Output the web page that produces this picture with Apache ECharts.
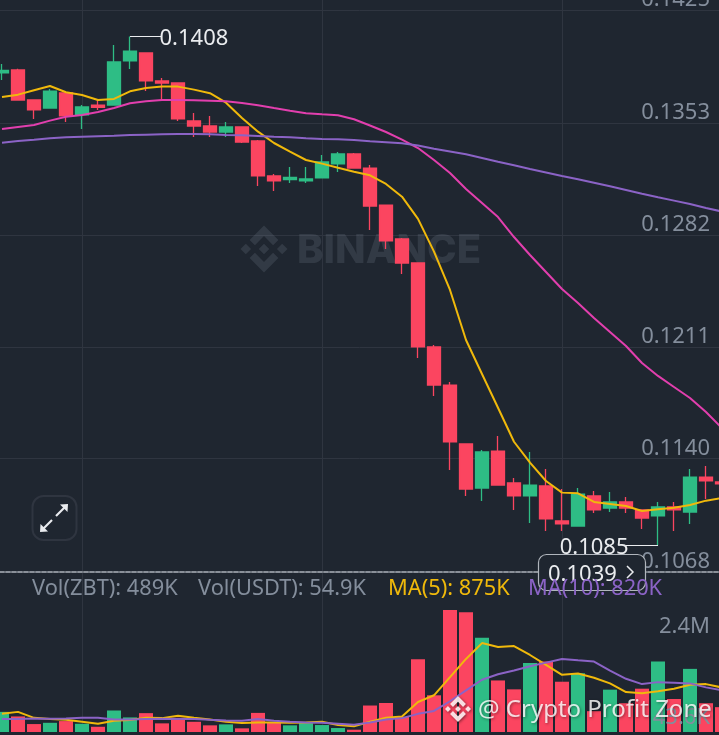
<!DOCTYPE html>
<html><head><meta charset="utf-8">
<style>html,body{margin:0;padding:0;background:#1f2630}#c{width:719px;height:735px}</style>
<script src="https://cdn.jsdelivr.net/npm/echarts@6/dist/echarts.min.js"></script>
</head><body><div id="c"></div>
<script>
const opens=[.13849,.13868,.13677,.13626,.13722,.13582,.13645,.13645,.13925,.13976,.13798,.13785,.13544,.13512,.13474,.13506,.13417,.13195,.13172,.13163,.13182,.13271,.13334,.13245,.1301,.12795,.12642,.12109,.11867,.11493,.11213,.11448,.11245,.11163,.11226,.11004,.10972,.11163,.11086,.11125,.11074,.11036,.11093,.11061,.11283,.11252];
const closes=[.13865,.13677,.13614,.13734,.13576,.13633,.1363,.13919,.13988,.13798,.13785,.13557,.13512,.13474,.13506,.1341,.13195,.13163,.13185,.13176,.13284,.13334,.13245,.13004,.12782,.12642,.12109,.11867,.11506,.11207,.11442,.11232,.11163,.11232,.11017,.10985,.11175,.11074,.11125,.11086,.11023,.11093,.11074,.11283,.11258,.11239];
const lows=[.13804,.13677,.13557,.13626,.13538,.13493,.13614,.13645,.13874,.13734,.13677,.13544,.13442,.13442,.13442,.13404,.13131,.13099,.1315,.1315,.13182,.1322,.13245,.12852,.12731,.12572,.12039,.11798,.11328,.11163,.11131,.11232,.11074,.10991,.1094,.1094,.10972,.11055,.11061,.11055,.10953,.1085,.1094,.10985,.11144,.11207];
const highs=[.13906,.13876,.13677,.13747,.13722,.13645,.13677,.14026,.1408,.13976,.13817,.13785,.13595,.13576,.13538,.13506,.13423,.13207,.13252,.13252,.13328,.13347,.13341,.13264,.1301,.12801,.12642,.12121,.11887,.11493,.11455,.11544,.11277,.11442,.11334,.11207,.11213,.11194,.11188,.11156,.11074,.11125,.11125,.11334,.11353,.11328];
const maYellow=[.13696,.13711,.13739,.13766,.13726,.13709,.13677,.13684,.13732,.13753,.13762,.13762,.13743,.1372,.1366,.13563,.13476,.13404,.13349,.13296,.13273,.13247,.13222,.13199,.13144,.13063,.12922,.12714,.12471,.12153,.11937,.11723,.11507,.11374,.11258,.11184,.1118,.11125,.11112,.11099,.11067,.11078,.11088,.11105,.11133,.1115];
const maPink=[.13493,.13506,.13518,.13546,.13571,.13582,.13601,.13626,.13656,.13669,.13677,.13677,.13675,.13673,.13669,.13658,.13644,.13626,.13609,.13593,.13586,.1358,.13555,.13515,.13474,.13426,.13372,.13296,.13214,.13112,.13023,.12934,.12807,.12693,.12585,.12477,.12388,.12293,.12204,.12115,.12007,.11925,.11855,.11785,.11696,.11594];
const maPurple=[.13406,.13417,.13425,.13434,.1344,.13444,.13447,.1345,.13455,.13457,.13459,.13461,.13461,.13459,.13455,.13453,.13449,.13444,.1344,.13434,.1343,.13428,.13423,.13415,.13409,.13402,.13388,.13368,.1335,.13332,.13309,.13285,.13263,.13239,.13217,.13195,.13174,.13152,.13129,.13106,.13082,.13059,.13038,.13017,.12991,.12969];
const volumes=[396,306,156,181,215,162,103,423,287,371,170,279,201,131,150,72,376,181,131,176,137,78,45,521,571,298,1429,722,2400,2354,1853,1014,839,1359,1385,989,1156,410,833,566,852,1385,649,1242,566,489];
const volYellow=[357,396,279,254,240,201,162,220,234,279,273,318,279,248,201,176,189,189,181,189,201,137,111,201,279,306,591,722,1078,1437,1749,1671,1691,1515,1320,1125,1151,1067,956,786,761,800,852,930,942,875];
const volPurple=[254,254,267,259,267,279,279,248,248,254,259,254,254,240,228,220,254,220,201,189,181,162,142,189,248,273,357,415,605,819,1028,1137,1209,1293,1365,1437,1410,1385,1209,1047,942,981,969,956,878,820];
const priceTicks=[0.1068,0.1140,0.1211,0.1282,0.1353,0.1425];
const volumeTicks=[43.6,2400];
const verticalTicks=[5,20,35];
const categories=opens.map((_,i)=>String(i));

const BG='#1f2630',GRID='#2f3540',TXT='#848e9c',UP='#2ebd85',DOWN='#fb4560';
const YEL='#f0b90b',PINK='#e23fae',PUR='#8b63c6',WHITE='#eaecef';
const MARK='rgba(132,142,156,0.2)';
const LOGO_POLYS=[
 [[9.8,13.4],[16,7.2],[22.2,13.4],[25.8,9.8],[16,0],[6.2,9.8]],
 [[0,16],[3.6,12.4],[7.2,16],[3.6,19.6]],
 [[9.8,18.6],[16,24.8],[22.2,18.6],[25.8,22.2],[16,32],[6.2,22.2]],
 [[24.8,16],[28.4,12.4],[32,16],[28.4,19.6]],
 [[19.6,16],[16,19.6],[12.4,16],[16,12.4]]];
const logo=(x,y,size,z,style)=>LOGO_POLYS.map(p=>({type:'polygon',z,silent:true,shape:{points:p.map(q=>[x+q[0]*size/32,y+q[1]*size/32])},style}));
const FONT='"Noto Sans"';
const GT={left:-6,width:736};
const line=(name,data,color,xi)=>({name,type:'line',data,xAxisIndex:xi,yAxisIndex:xi,showSymbol:false,symbol:'none',smooth:false,z:5,silent:true,lineStyle:{color,width:2},itemStyle:{color}});

const xCommon=i=>({type:'category',gridIndex:i,data:categories,boundaryGap:true,
  axisLabel:{show:false},axisTick:{show:false,alignWithLabel:true,customValues:verticalTicks},
  splitLine:{show:true,alignWithLabel:true,lineStyle:{color:GRID,width:1}},
  axisLine:i===0?{show:true,onZero:false,lineStyle:{color:'#8a9099',type:[4,2],width:2}}:{show:false}});

const polyl=(pts,z,stroke,w)=>({type:'polyline',z,silent:true,shape:{points:pts},style:{fill:'none',stroke,lineWidth:w}});
const tri=(pts,z,fill)=>({type:'polygon',z,silent:true,shape:{points:pts},style:{fill}});

const chart=echarts.init(document.getElementById('c'),null,{renderer:'canvas'});
chart.setOption({
  animation:false,backgroundColor:BG,
  grid:[{left:GT.left,width:GT.width,top:0,height:572,containLabel:false,outerBoundsMode:'none'},{left:GT.left,width:GT.width,top:572,height:160,containLabel:false,outerBoundsMode:'none'}],
  xAxis:[xCommon(0),xCommon(1)],
  yAxis:[
    {type:'value',gridIndex:0,position:'right',min:0.1068,max:0.14312,scale:true,
     axisLine:{show:false},axisTick:{show:false,customValues:priceTicks},
     axisLabel:{inside:true,margin:20,color:TXT,fontFamily:FONT,fontSize:22,verticalAlign:'bottom',lineHeight:20,showMinLabel:true,showMaxLabel:true,hideOverlap:false,customValues:priceTicks,formatter:v=>v.toFixed(4)},
     splitLine:{show:true,lineStyle:{color:GRID,width:1}}},
    {type:'value',gridIndex:1,position:'right',min:0,max:3147.5,z:10,
     axisLine:{show:false},axisTick:{show:false,customValues:volumeTicks},
     axisLabel:{inside:true,margin:20,color:TXT,fontFamily:FONT,fontSize:22,hideOverlap:false,customValues:volumeTicks,verticalAlign:'middle',
       formatter:v=>v>=1000?'{hi|'+(v/1000).toFixed(1)+'M}':'{lo|'+v.toFixed(1)+'K}',
       rich:{hi:{color:TXT,fontFamily:FONT,fontSize:22,padding:[34,0,0,0]},lo:{color:TXT,fontFamily:FONT,fontSize:22,padding:[0,0,24,0]}}},
     splitLine:{show:false}}
  ],
  series:[
    {type:'candlestick',xAxisIndex:0,yAxisIndex:0,barWidth:14,z:3,silent:true,
     data:opens.map((o,i)=>[o,closes[i],lows[i],highs[i]]),
     itemStyle:{color:UP,color0:DOWN,borderColor:UP,borderColor0:DOWN,borderWidth:1.3},
     markLine:{silent:true,symbol:'none',animation:false,z:6,
       lineStyle:{color:WHITE,type:'solid',width:1},
       label:{position:'end',distance:-2.5,formatter:p=>'{t|'+p.value.toFixed(4)+'}',
         rich:{t:{color:WHITE,fontFamily:FONT,fontSize:22,padding:[5,0,0,0]}}},
       data:[
         [{coord:[8,highs[8]],value:highs[8]},{coord:[9.875,highs[8]]}],
         [{coord:[41,lows[41]],value:lows[41]},{coord:[39.125,lows[41]]}]
       ]}},
    line('MA1',maYellow,YEL,0),line('MA2',maPink,PINK,0),line('MA3',maPurple,PUR,0),
    {type:'bar',xAxisIndex:1,yAxisIndex:1,barWidth:14,z:3,silent:true,
     data:volumes.map((v,i)=>({value:v,itemStyle:{color:closes[i]>=opens[i]?UP:DOWN}}))},
    line('VMA5',volYellow,YEL,1),line('VMA10',volPurple,PUR,1)
  ],
  graphic:[
    ...logo(240.5,225.5,47,1,{fill:MARK}),
    {type:'text',z:1,left:297,top:231,silent:true,style:{text:'BINANCE',fill:MARK,fontFamily:'Inter',fontWeight:800,fontSize:40,textAlign:'left'}},
    {type:'rect',z:20,shape:{x:32.5,y:496,width:44,height:44,r:11},style:{fill:BG,stroke:GRID,lineWidth:2},silent:true},
    polyl([[43,529],[52,520]],21,WHITE,2.2),tri([[40,532],[48,531.5],[40.5,524]],21,WHITE),
    polyl([[65,507],[56,516]],21,WHITE,2.2),tri([[68,504],[60,504.5],[67.5,512]],21,WHITE),
    {type:'rect',z:20,shape:{x:538.5,y:554.5,width:107,height:36,r:8},style:{fill:BG,stroke:'#b0b5bc',lineWidth:1.2},silent:true},
    {type:'text',z:21,left:548,top:564,silent:true,style:{text:'0.1039',fill:WHITE,fontFamily:FONT,fontSize:22}},
    polyl([[627,566],[633,572],[627,578]],21,WHITE,1.5),
    {type:'text',z:22,left:32,top:578,silent:true,style:{text:'Vol(ZBT): 489K',fill:TXT,fontFamily:FONT,fontSize:21.8}},
    {type:'text',z:22,left:198,top:578,silent:true,style:{text:'Vol(USDT): 54.9K',fill:TXT,fontFamily:FONT,fontSize:21.8}},
    {type:'text',z:22,left:388,top:578,silent:true,style:{text:'MA(5): 875K',fill:YEL,fontFamily:FONT,fontSize:21.8}},
    {type:'text',z:22,left:528,top:578,silent:true,style:{text:'MA(10): 820K',fill:PUR,fontFamily:FONT,fontSize:21.8}},
    ...logo(445,696,26,30,{fill:'rgba(255,238,240,.92)',shadowColor:'rgba(0,0,0,.5)',shadowBlur:3,shadowOffsetX:1,shadowOffsetY:1}),
    {type:'text',z:30,left:478,top:698,silent:true,style:{text:'@ Crypto Profit Zone',fill:'rgba(255,255,255,.82)',fontFamily:FONT,fontSize:24,textShadowColor:'rgba(0,0,0,.5)',textShadowBlur:3,textShadowOffsetX:1,textShadowOffsetY:1}}
  ]
});
</script></body></html>
